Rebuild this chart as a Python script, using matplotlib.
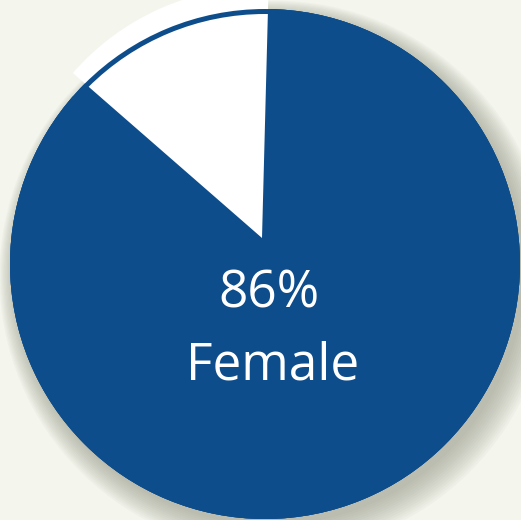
import matplotlib
matplotlib.use('Agg')
import matplotlib.pyplot as plt
from matplotlib.patches import Circle, Wedge

labels = ['Male', 'Female']
shares = [14, 86]
centre_text = ['86%', 'Female']

blue = '#0e4d8b'
bg = '#f4f6ee'

fig = plt.figure(figsize=(5.21, 5.20), dpi=100)
fig.patch.set_facecolor(bg)
ax = fig.add_axes([0, 0, 1, 1])
ax.set_facecolor(bg)

cx, cy, r = 265, 256, 255

# soft drop shadow, heavier to the lower right
for k in range(14):
    ax.add_patch(Circle((cx + 5 + k * 0.4, cy - 6 - k * 0.5), r + k * 1.6,
                        color='#8f927f', alpha=0.05, lw=0, zorder=1))

ax.add_patch(Circle((cx, cy), r, color=blue, lw=0, zorder=2))

wedges, _ = ax.pie(shares, colors=['white', blue], startangle=88.5,
                   counterclock=True, radius=r, center=(cx, cy),
                   wedgeprops=dict(linewidth=0))
for w in wedges:
    w.set_zorder(3)
# the small slice is pulled up a little and runs past the rim
wedges[0].set_center((262, 282))
wedges[0].set_radius(251)
wedges[0].set_zorder(4)

# thin blue rim over the white slice
ax.add_patch(Wedge((cx, cy), r, 0, 360, width=5, color=blue, lw=0, zorder=5))

ax.text(269, 212, centre_text[0], color='white', fontsize=37,
        family='Open Sans', ha='center', va='baseline', zorder=6)
ax.text(273, 140, centre_text[1], color='white', fontsize=37,
        family='Open Sans', ha='center', va='baseline', zorder=6)

ax.set_xlim(0, 521)
ax.set_ylim(0, 520)
ax.set_aspect('auto')
ax.axis('off')

plt.savefig('out.png', dpi=100, facecolor=bg)
